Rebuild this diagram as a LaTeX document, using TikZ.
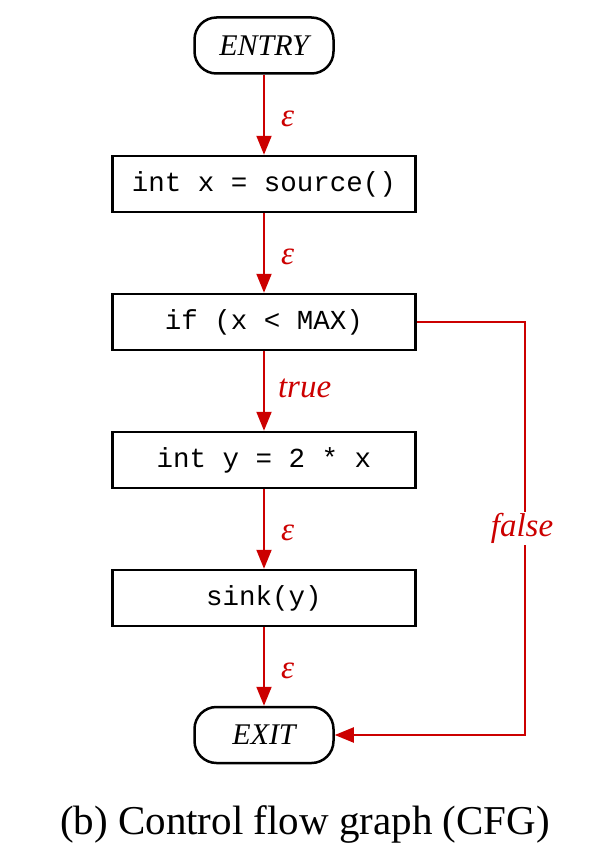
\documentclass[tikz,border=0pt]{standalone}
\usepackage{fontspec}
\setmainfont{Liberation Serif}
\setmonofont{Liberation Mono}
\usetikzlibrary{arrows.meta}
\definecolor{cfgred}{RGB}{204,0,0}
\begin{document}
\begin{tikzpicture}[x=1pt,y=-1pt,
  term/.style={draw=black, line width=2.5pt, rounded corners=22pt, minimum width=139pt, minimum height=56pt, inner sep=0pt, font=\fontsize{30}{32}\selectfont\itshape},
  stmt/.style={draw=black, line width=2.5pt, minimum width=303pt, minimum height=56pt, inner sep=0pt, font=\fontsize{27.5}{29}\selectfont\ttfamily},
  edge/.style={draw=cfgred, line width=2pt, -{Triangle[length=19pt,width=15pt]}},
  elab/.style={text=cfgred, font=\fontsize{33}{35}\selectfont\itshape, inner sep=1pt},
]
\useasboundingbox (0,0) rectangle (598,848);
\node[term] (entry) at (264,45.5) {ENTRY};
\node[stmt] (s1) at (264,184) {int x = source()};
\node[stmt] (s2) at (264,322) {if (x < MAX)};
\node[stmt] (s3) at (264,460) {int y = 2 * x};
\node[stmt] (s4) at (264,598) {sink(y)};
\node[term] (exit) at (264,735) {EXIT};
\coordinate (c1) at (525,322);
\coordinate (c2) at (525,735);

\draw[edge] (entry) -- node[elab, right=15pt, pos=0.55] {ε} (s1);
\draw[edge] (s1) -- node[elab, right=15pt, pos=0.55] {ε} (s2);
\draw[edge] (s2) -- node[elab, right=12pt, pos=0.47] {true} (s3);
\draw[edge] (s3) -- node[elab, right=15pt, pos=0.55] {ε} (s4);
\draw[edge] (s4) -- node[elab, right=15pt, pos=0.55] {ε} (exit);
\draw[edge] (s2.east) -- (c1) -- node[elab, fill=white, pos=0.5, xshift=-3pt] {false} (c2) -- (exit.east);

\node[font=\fontsize{41}{43}\selectfont, anchor=base, inner sep=0pt] (cap) at (305,834) {(b) Control flow graph (CFG)};
\end{tikzpicture}
\end{document}
